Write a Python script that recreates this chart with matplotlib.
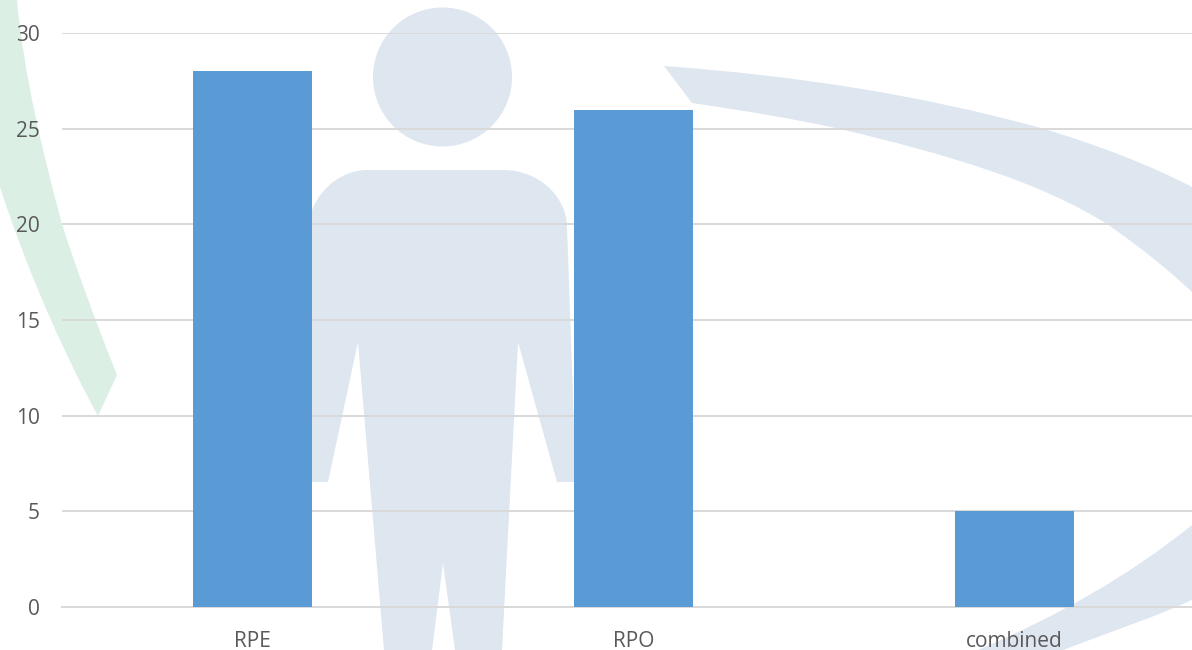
import matplotlib
matplotlib.use("Agg")
import matplotlib.pyplot as plt
from matplotlib.patches import Circle, PathPatch
from matplotlib.path import Path

categories = ["RPE", "RPO", "combined"]
values = [28, 26, 5]
yticks = [0, 5, 10, 15, 20, 25, 30]

W, H = 1192, 650
plt.rcParams['font.family'] = ['Open Sans', 'DejaVu Sans']

fig = plt.figure(figsize=(W / 100, H / 100), dpi=100)

# background logo, drawn in pixel coords on a full-figure axes
bg = fig.add_axes([0, 0, 1, 1], zorder=0)
bg.set_xlim(0, W)
bg.set_ylim(H, 0)
bg.axis("off")

logo_blue = "#dee6ef"
logo_green = "#dcefe5"
M, L, C, Z = Path.MOVETO, Path.LINETO, Path.CURVE4, Path.CLOSEPOLY


def add_shape(steps, color):
    # steps is a list of (code, point) pairs, curves take three points in a row
    verts = [p for _, p in steps]
    codes = [c for c, _ in steps]
    bg.add_patch(PathPatch(Path(verts, codes), facecolor=color, edgecolor="none", lw=0))


# person
bg.add_patch(Circle((442.5, 77), 69.5, facecolor=logo_blue, edgecolor="none"))
add_shape([
    (M, (305, 225)), (L, (312, 210)),
    (C, (322, 185)), (C, (345, 170)), (C, (367, 170)),
    (L, (503, 170)),
    (C, (540, 170)), (C, (567, 198)), (C, (567, 227)),
    (L, (576, 482)), (L, (557, 482)), (L, (518, 342)),
    (L, (502, 650)), (L, (455, 650)), (L, (443, 563)), (L, (432, 650)), (L, (384, 650)),
    (L, (358, 342)), (L, (328, 482)), (L, (305, 482)),
    (Z, (305, 225)),
], logo_blue)

# swoosh top right
add_shape([
    (M, (664, 66)),
    (C, (800, 76)), (C, (920, 95)), (C, (1041, 128)),
    (C, (1095, 144)), (C, (1150, 165)), (C, (1192, 187)),
    (L, (1192, 292)),
    (C, (1160, 262)), (C, (1130, 240)), (C, (1107, 224)),
    (C, (1040, 182)), (C, (950, 155)), (C, (840, 129)),
    (C, (790, 118)), (C, (740, 110)), (C, (692, 103)),
    (Z, (664, 66)),
], logo_blue)

# swoosh bottom right
add_shape([
    (M, (1192, 525)),
    (C, (1130, 575)), (C, (1060, 615)), (C, (978, 650)),
    (L, (1063, 650)),
    (C, (1110, 632)), (C, (1155, 617)), (C, (1192, 600)),
    (Z, (1192, 525)),
], logo_blue)

# green arc left
add_shape([
    (M, (0, 0)), (L, (17, 0)),
    (C, (24, 75)), (C, (42, 150)), (C, (62, 224)),
    (C, (75, 265)), (C, (95, 320)), (C, (117, 375)),
    (L, (98, 416)),
    (C, (70, 365)), (C, (30, 280)), (C, (0, 187)),
    (Z, (0, 0)),
], logo_green)

# the plot area runs a little past the right edge of the picture
ax = fig.add_axes([62 / W, 1 - 607 / H, 1143 / W, (607 - 33) / H], zorder=1)
ax.patch.set_alpha(0)

x = range(len(categories))
ax.bar(x, values, width=0.3125, color="#5b9bd5", zorder=3)
ax.set_xlim(-0.5, 2.5)
ax.set_ylim(0, 30)
ax.set_yticks(yticks)
ax.set_xticks(list(x))
ax.set_xticklabels(categories)
ax.grid(axis="y", color="#d9d9d9", lw=1.4, zorder=1)
ax.tick_params(length=0, labelsize=15, labelcolor="#595959")
ax.tick_params(axis="x", pad=17)
ax.tick_params(axis="y", pad=16)
for s in ax.spines.values():
    s.set_visible(False)
ax.spines["bottom"].set_visible(True)
ax.spines["bottom"].set_color("#d9d9d9")
ax.spines["bottom"].set_linewidth(1.4)

fig.savefig("out.png", dpi=100)
